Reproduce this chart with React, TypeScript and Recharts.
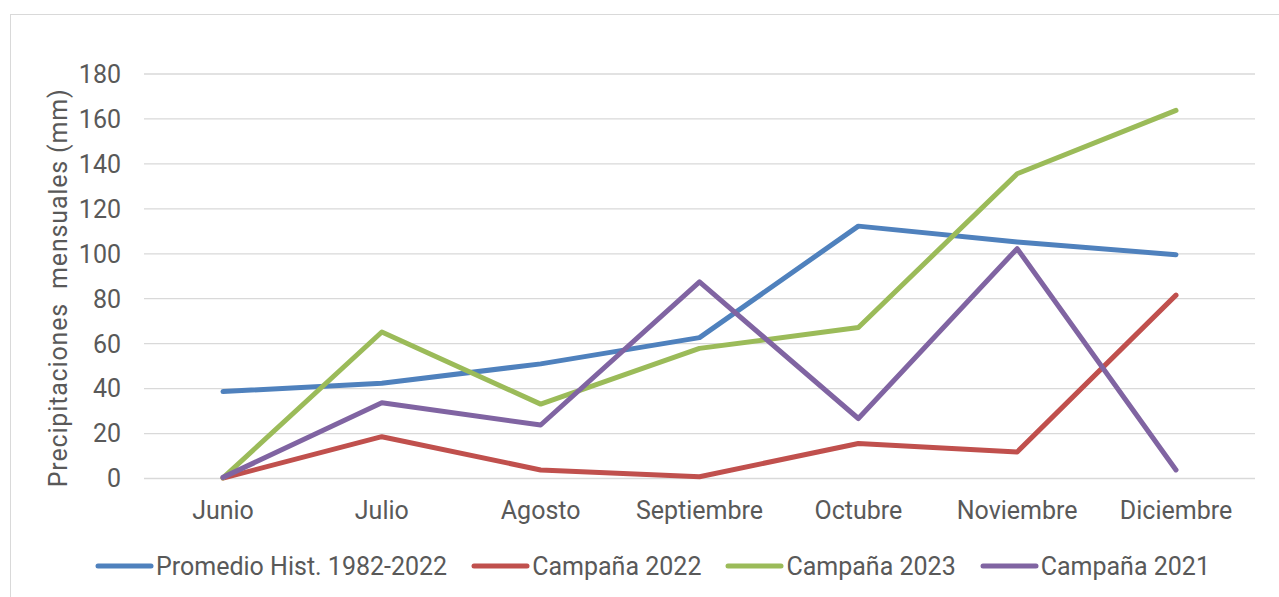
import React from 'react';
import { LineChart, Line, XAxis, YAxis, CartesianGrid, Legend } from 'recharts';

const months = ['Junio', 'Julio', 'Agosto', 'Septiembre', 'Octubre', 'Noviembre', 'Diciembre'];
const promedio = [38.7, 42.4, 51.0, 62.7, 112.3, 105.2, 99.6];
const campana2022 = [0.2, 18.6, 3.8, 0.8, 15.6, 11.8, 81.6];
const campana2023 = [0.3, 65.2, 33.1, 57.9, 67.2, 135.6, 163.8];
const campana2021 = [0.5, 33.7, 23.8, 87.5, 26.7, 102.3, 3.8];
const yTicks = [0, 20, 40, 60, 80, 100, 120, 140, 160, 180];

const seriesNames = ['Promedio Hist. 1982-2022', 'Campaña 2022', 'Campaña 2023', 'Campaña 2021'];
const seriesKeys = ['promedio', 'c2022', 'c2023', 'c2021'];
const seriesColors = ['#4F81BD', '#C0504D', '#9BBB59', '#8064A2'];
const seriesValues = [promedio, campana2022, campana2023, campana2021];

const data = months.map((m, i) => {
  const row: Record<string, string | number> = { month: m };
  seriesKeys.forEach((k, j) => {
    row[k] = seriesValues[j][i];
  });
  return row;
});

const FONT = 'Roboto, "Noto Sans", sans-serif';
const TEXT = '#595959';
const FS = 25;

const LegendContent = (props: any) => {
  const payload = [...(props.payload || [])].sort(
    (a: any, b: any) => seriesNames.indexOf(a.value) - seriesNames.indexOf(b.value)
  );
  return (
    <div style={{ display: 'flex', alignItems: 'center', height: 34, fontFamily: FONT, fontSize: FS, color: TEXT, whiteSpace: 'nowrap' }}>
      {payload.map((p: any, i: number) => (
        <div key={i} style={{ display: 'flex', alignItems: 'center', marginRight: 24 }}>
          <svg width={60} height={10} style={{ marginRight: 1 }}>
            <line x1={3} y1={5} x2={56} y2={5} stroke={p.color} strokeWidth={5} strokeLinecap="round" />
          </svg>
          <span>{p.value}</span>
        </div>
      ))}
    </div>
  );
};

const YLabel = (props: any) => {
  const vb = props.viewBox || { x: 0, y: 0, width: 0, height: 0 };
  const cx = vb.x + 58;
  const cy = vb.y + vb.height / 2 + 12;
  return (
    <text
      x={cx}
      y={cy}
      transform={`rotate(-90 ${cx} ${cy})`}
      textAnchor="middle"
      dominantBaseline="central"
      fill={TEXT}
      fontSize={FS}
      fontFamily={FONT}
      textLength={398}
      lengthAdjust="spacing"
      style={{ whiteSpace: 'pre' }}
    >
      Precipitaciones  mensuales (mm)
    </text>
  );
};

export default function App() {
  return (
    <div style={{ position: 'absolute', left: 0, top: 0, width: 1279, height: 597, background: '#fff', overflow: 'hidden' }}>
      <div style={{ position: 'absolute', left: 10, top: 14, width: 1300, height: 640, border: '1px solid #d9d9d9', boxSizing: 'border-box' }} />
      <div style={{ position: 'absolute', left: 0, top: 0 }}>
        <LineChart width={1279} height={597} data={data} margin={{ top: 74, right: 24, bottom: 54.5, left: 0 }}>
          <CartesianGrid vertical={false} stroke="#d9d9d9" strokeWidth={1.3} />
          <XAxis
            dataKey="month"
            padding={{ left: 79, right: 79 }}
            axisLine={false}
            tickLine={false}
            tickSize={0}
            tickMargin={23}
            height={30}
            interval={0}
            tick={{ fill: TEXT, fontSize: FS, fontFamily: FONT }}
          />
          <YAxis
            width={144}
            domain={[0, 180]}
            ticks={yTicks}
            interval={0}
            axisLine={false}
            tickLine={false}
            tickSize={0}
            tickMargin={23}
            tick={{ fill: TEXT, fontSize: FS, fontFamily: FONT }}
            label={<YLabel />}
          />
          <Legend
            verticalAlign="bottom"
            height={34}
            content={<LegendContent />}
            wrapperStyle={{ position: 'absolute', top: 549, left: 95, width: 'auto', height: 34 }}
          />
          {seriesKeys.map((k, j) => (
            <Line
              key={k}
              type="linear"
              dataKey={k}
              name={seriesNames[j]}
              stroke={seriesColors[j]}
              strokeWidth={5}
              strokeLinecap="round"
              strokeLinejoin="round"
              dot={false}
              activeDot={false}
              isAnimationActive={false}
            />
          ))}
        </LineChart>
      </div>
    </div>
  );
}
